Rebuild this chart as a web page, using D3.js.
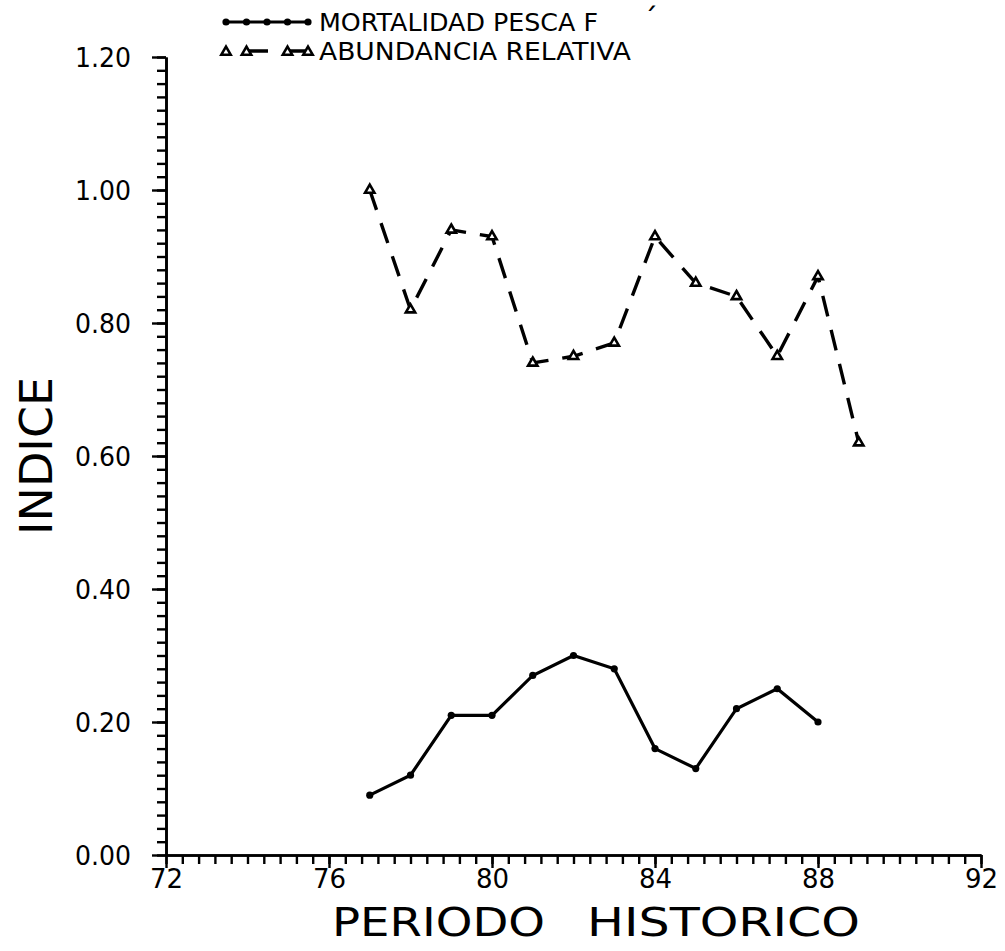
<!DOCTYPE html>
<html>
<head>
<meta charset="utf-8">
<script src="https://cdn.jsdelivr.net/npm/d3@7"></script>
<style>
  html, body { margin: 0; padding: 0; background: #fff; }
  svg { display: block; }
  text { font-family: "DejaVu Sans", sans-serif; fill: #000; }
</style>
</head>
<body>
<svg id="chart" width="1005" height="951"></svg>
<script>
// ---- data ----
const years = [77, 78, 79, 80, 81, 82, 83, 84, 85, 86, 87, 88, 89];
const abundancia = [1.00, 0.82, 0.94, 0.93, 0.74, 0.75, 0.77, 0.93, 0.86, 0.84, 0.75, 0.87, 0.62];
const mortYears = [77, 78, 79, 80, 81, 82, 83, 84, 85, 86, 87, 88];
const mortalidad = [0.09, 0.12, 0.21, 0.21, 0.27, 0.30, 0.28, 0.16, 0.13, 0.22, 0.25, 0.20];
const xTickLabels = [72, 76, 80, 84, 88, 92];
const yTickLabels = [0.00, 0.20, 0.40, 0.60, 0.80, 1.00, 1.20];
const seriesNames = ["MORTALIDAD PESCA F", "ABUNDANCIA RELATIVA"];
const xTitleWords = ["PERIODO", "HISTORICO"];
const yTitle = "INDICE";

// ---- layout ----
const svg = d3.select("#chart");
const x = d3.scaleLinear().domain([72, 92]).range([166, 981]);
const y = d3.scaleLinear().domain([0, 1.2]).range([855, 57]);

const minorY = d3.range(0, 61).map(i => i * 0.02);
const minorX = d3.range(0, 51).map(i => 72 + i * 0.4);

// y axis minor ticks
svg.append("g").attr("transform", `translate(${x(72)},0)`)
  .call(d3.axisLeft(y).tickValues(minorY).tickSize(9).tickSizeOuter(0).tickFormat(""));
// y axis major ticks + labels
const yMajor = svg.append("g").attr("transform", `translate(${x(72)},0)`)
  .call(d3.axisLeft(y).tickValues(yTickLabels).tickSize(14).tickSizeOuter(0)
    .tickPadding(21).tickFormat(d3.format(".2f")));
yMajor.selectAll("text").style("font-size", "26px").attr("dy", "0.36em")
  .attr("textLength", 56).attr("lengthAdjust", "spacingAndGlyphs");

// x axis minor ticks
svg.append("g").attr("transform", `translate(0,${y(0)})`)
  .call(d3.axisBottom(x).tickValues(minorX).tickSize(9).tickSizeOuter(0).tickFormat(""));
// x axis major ticks + labels
const xMajor = svg.append("g").attr("transform", `translate(0,${y(0)})`)
  .call(d3.axisBottom(x).tickValues(xTickLabels).tickSize(13).tickSizeOuter(0)
    .tickPadding(2).tickFormat(d3.format("d")));
xMajor.selectAll("text").style("font-size", "26px");

svg.selectAll(".domain").attr("stroke", "#000").attr("stroke-width", 2.6);
svg.selectAll(".tick line").attr("stroke", "#000").attr("stroke-width", 2.4);

// ---- series ----
const lineGen = d3.line().x(d => x(d[0])).y(d => y(d[1]));

const abData = years.map((yr, i) => [yr, abundancia[i]]);
const moData = mortYears.map((yr, i) => [yr, mortalidad[i]]);

svg.append("path").datum(abData)
  .attr("d", lineGen).attr("fill", "none").attr("stroke", "#000")
  .attr("stroke-width", 3.4).attr("stroke-dasharray", "21,14");

const tri = d3.symbol().type(d3.symbolTriangle).size(38);
svg.append("g").selectAll("path").data(abData).join("path")
  .attr("transform", d => `translate(${x(d[0])},${y(d[1])})`)
  .attr("d", tri).attr("fill", "#fff").attr("stroke", "#000").attr("stroke-width", 2.6);

svg.append("path").datum(moData)
  .attr("d", lineGen).attr("fill", "none").attr("stroke", "#000")
  .attr("stroke-width", 3.2);
svg.append("g").selectAll("circle").data(moData).join("circle")
  .attr("cx", d => x(d[0])).attr("cy", d => y(d[1])).attr("r", 3.6).attr("fill", "#000");

// ---- legend ----
const legX0 = 226, legX1 = 308;
const legPts = d3.range(5).map(i => legX0 + i * (legX1 - legX0) / 4);

svg.append("line").attr("x1", legX0).attr("x2", legX1).attr("y1", 22).attr("y2", 22)
  .attr("stroke", "#000").attr("stroke-width", 3.2);
svg.append("g").selectAll("circle").data(legPts).join("circle")
  .attr("cx", d => d).attr("cy", 22).attr("r", 3.6).attr("fill", "#000");

svg.append("line").attr("x1", legX0).attr("x2", legX1).attr("y1", 51).attr("y2", 51)
  .attr("stroke", "#000").attr("stroke-width", 3.4).attr("stroke-dasharray", "0,22,20,20,20");
svg.append("g").selectAll("path").data(legPts.filter((d, i) => i !== 2)).join("path")
  .attr("transform", d => `translate(${d},52)`)
  .attr("d", tri).attr("fill", "#fff").attr("stroke", "#000").attr("stroke-width", 2.6);

svg.append("text").attr("x", 319).attr("y", 31).style("font-size", "25px")
  .attr("textLength", 279).attr("lengthAdjust", "spacingAndGlyphs").text(seriesNames[0]);
svg.append("text").attr("x", 319).attr("y", 60).style("font-size", "25px")
  .attr("textLength", 312).attr("lengthAdjust", "spacingAndGlyphs").text(seriesNames[1]);
svg.append("text").attr("x", 643).attr("y", 30).style("font-size", "30px").text("\u00B4");

// ---- titles ----
svg.append("text").attr("x", 332).attr("y", 936).style("font-size", "39px")
  .attr("textLength", 213).attr("lengthAdjust", "spacingAndGlyphs").text(xTitleWords[0]);
svg.append("text").attr("x", 587).attr("y", 936).style("font-size", "39px")
  .attr("textLength", 273).attr("lengthAdjust", "spacingAndGlyphs").text(xTitleWords[1]);
svg.append("text").attr("transform", "translate(52,456) rotate(-90)")
  .attr("text-anchor", "middle").style("font-size", "44px")
  .attr("textLength", 158).attr("lengthAdjust", "spacingAndGlyphs").text(yTitle);
</script>
</body>
</html>
